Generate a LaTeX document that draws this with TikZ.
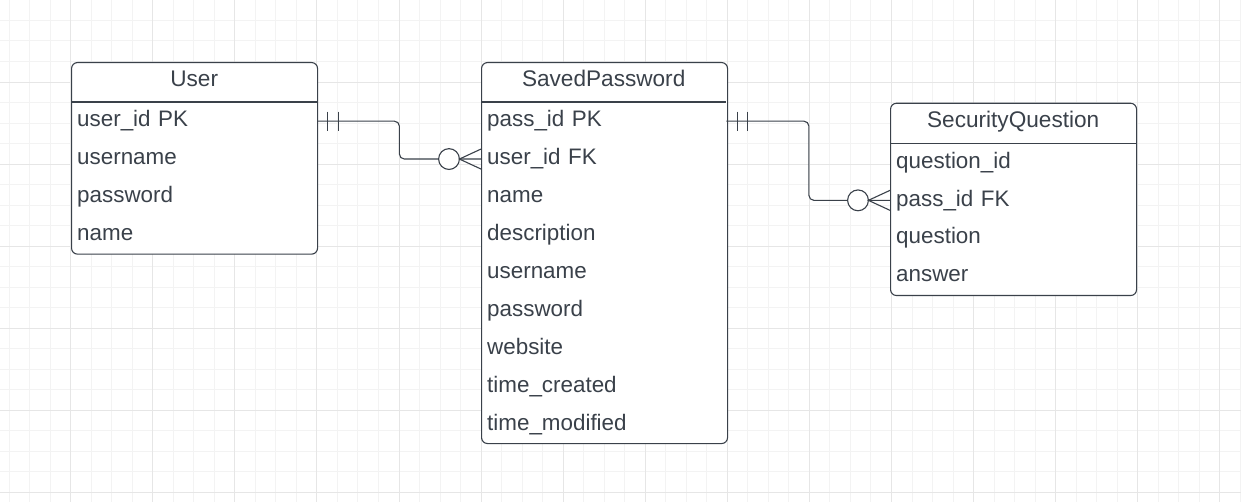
\documentclass[tikz,border=0pt]{standalone}
\usepackage{fontspec}
\setmainfont{Liberation Sans}
\definecolor{ink}{HTML}{3A414A}
\definecolor{gridminor}{HTML}{F3F3F3}
\definecolor{gridmajor}{HTML}{E6E6E6}
\tikzset{
  entity/.style={draw=ink, line width=1.1pt, rounded corners=6pt, inner sep=0pt, anchor=north west, minimum width=246pt},
  divider/.style={draw=ink, line width=1.1pt},
  head/.style={anchor=north west, minimum width=246pt, minimum height=40pt, inner xsep=0pt, inner ysep=0pt,
    text width=246pt, align=center, text height=16pt, text depth=6.6pt, text=ink, font=\fontsize{22.6}{26}\selectfont},
  row/.style={anchor=north west, minimum width=246pt, minimum height=37.9pt, inner xsep=6pt, inner ysep=0pt,
    text width=234pt, align=left, text height=16pt, text depth=4.5pt, text=ink, font=\fontsize{22.4}{26}\selectfont},
  rel/.style={draw=ink, line width=1.1pt, rounded corners=5pt},
  relmark/.style={draw=ink, line width=1.1pt},
  gridline/.style={line width=1pt}
}
\begin{document}
\begin{tikzpicture}[x=1pt,y=-1pt]
\useasboundingbox (0,0) rectangle (1241,502);
\fill[white] (0,0) rectangle (1241,502);
% grid
\foreach \i in {0,...,60}{
  \pgfmathsetmacro\xx{9.14+20.52*\i}
  \draw[gridline, gridminor] (\xx,0) -- (\xx,502);
}
\foreach \i in {0,...,24}{
  \pgfmathsetmacro\yy{-0.06+20.52*\i}
  \draw[gridline, gridminor] (0,\yy) -- (1241,\yy);
}
\foreach \i in {0,...,15}{
  \pgfmathsetmacro\xx{70.70+82.08*\i}
  \draw[gridline, gridmajor] (\xx,0) -- (\xx,502);
}
\foreach \i in {0,...,6}{
  \pgfmathsetmacro\yy{-0.06+82.08*\i}
  \draw[gridline, gridmajor] (0,\yy) -- (1241,\yy);
}

% User
\node[entity, fill=white, minimum height=191.6pt] (user) at (71,62) {};
\draw[divider] (71,102) -- (317,102);
\node[head] (userh) at (71,62) {User};
\node[row] (u1) at (71,102) {user\_id PK};
\node[row] (u2) at (71,139.9) {username};
\node[row] (u3) at (71,177.8) {password};
\node[row] (u4) at (71,215.7) {name};

% SavedPassword
\node[entity, fill=white, minimum height=381pt] (saved) at (481,62) {};
\draw[divider] (481,102) -- (726,102);
\node[head, minimum width=245pt, text width=245pt] (savedh) at (481,62) {SavedPassword};
\node[row, minimum width=245pt, text width=233pt] (s1) at (481,102) {pass\_id PK};
\node[row, minimum width=245pt, text width=233pt] (s2) at (481,139.9) {user\_id FK};
\node[row, minimum width=245pt, text width=233pt] (s3) at (481,177.8) {name};
\node[row, minimum width=245pt, text width=233pt] (s4) at (481,215.7) {description};
\node[row, minimum width=245pt, text width=233pt] (s5) at (481,253.6) {username};
\node[row, minimum width=245pt, text width=233pt] (s6) at (481,291.5) {password};
\node[row, minimum width=245pt, text width=233pt] (s7) at (481,329.4) {website};
\node[row, minimum width=245pt, text width=233pt] (s8) at (481,367.3) {time\_created};
\node[row, minimum width=245pt, text width=233pt] (s9) at (481,405.2) {time\_modified};

% SecurityQuestion
\node[entity, fill=white, minimum height=192.3pt] (secq) at (890,102.7) {};
\draw[divider] (890,143.3) -- (1136,143.3);
\node[head, minimum height=40.6pt] (secqh) at (890,102.7) {SecurityQuestion};
\node[row] (q1) at (890,143.3) {question\_id};
\node[row] (q2) at (890,181.2) {pass\_id FK};
\node[row] (q3) at (890,219.1) {question};
\node[row] (q4) at (890,257) {answer};

% User -- SavedPassword
\draw[rel] (u1.east) -- ++(82,0) |- (s2.west);
\draw[relmark] ([xshift=10.3pt]u1.east) ++(0,-9.5) -- ++(0,19);
\draw[relmark] ([xshift=20.7pt]u1.east) ++(0,-9.5) -- ++(0,19);
\draw[relmark, fill=white] ([xshift=-32pt]s2.west) circle[radius=10.4pt];
\draw[relmark] ([yshift=10pt]s2.west) -- ([xshift=-21.6pt]s2.west) -- ([yshift=-10pt]s2.west);

% SavedPassword -- SecurityQuestion
\draw[rel] (s1.east) -- ++(82.5,0) |- (q2.west);
\draw[relmark] ([xshift=10.7pt]s1.east) ++(0,-9.5) -- ++(0,19);
\draw[relmark] ([xshift=21.3pt]s1.east) ++(0,-9.5) -- ++(0,19);
\draw[relmark, fill=white] ([xshift=-32pt]q2.west) circle[radius=10.4pt];
\draw[relmark] ([yshift=10pt]q2.west) -- ([xshift=-21.6pt]q2.west) -- ([yshift=-10pt]q2.west);
\end{tikzpicture}
\end{document}
